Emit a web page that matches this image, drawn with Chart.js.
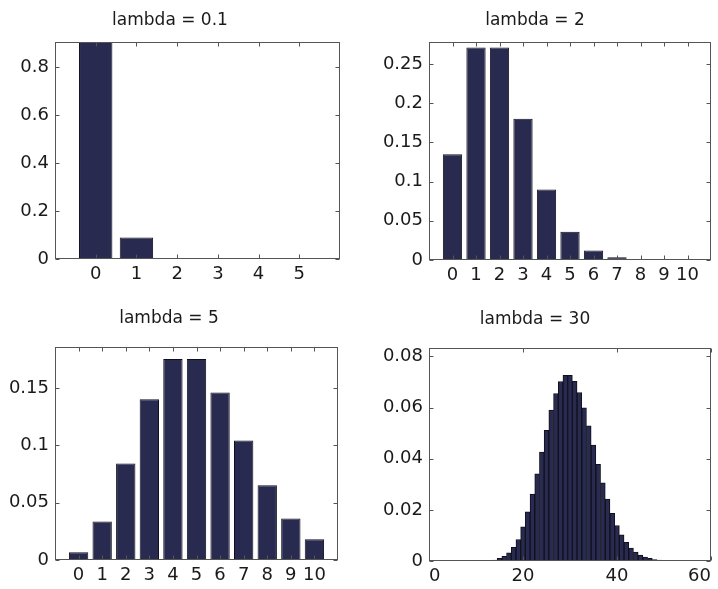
<!DOCTYPE html>
<html>
<head>
<meta charset="utf-8">
<script src="https://cdn.jsdelivr.net/npm/chart.js@4"></script>
<style>
  html, body { margin: 0; padding: 0; background: #fff; }
  #wrap { position: relative; width: 718px; height: 589px; background: #fff; overflow: hidden; }
  canvas { position: absolute; }
</style>
</head>
<body>
<div id="wrap">
  <canvas id="c1" width="359" height="295" style="left:0;top:0"></canvas>
  <canvas id="c2" width="359" height="295" style="left:359px;top:0"></canvas>
  <canvas id="c3" width="359" height="294" style="left:0;top:295px"></canvas>
  <canvas id="c4" width="359" height="294" style="left:359px;top:295px"></canvas>
</div>
<script>
// lambda = 0.1
const k01 = [0, 1, 2, 3, 4, 5];
const p01 = [0.905, 0.090, 0.0045, 0.00015, 0.00001, 0.0000003];
const xTicks01 = [0, 1, 2, 3, 4, 5];
const yTicks01 = [0, 0.2, 0.4, 0.6, 0.8];

// lambda = 2
const k2 = [0, 1, 2, 3, 4, 5, 6, 7, 8, 9, 10];
const p2 = [0.135, 0.271, 0.271, 0.180, 0.090, 0.036, 0.012, 0.0034, 0.0009, 0.0002, 0.00004];
const xTicks2 = [0, 1, 2, 3, 4, 5, 6, 7, 8, 9, 10];
const yTicks2 = [0, 0.05, 0.1, 0.15, 0.2, 0.25];

// lambda = 5
const k5 = [0, 1, 2, 3, 4, 5, 6, 7, 8, 9, 10];
const p5 = [0.0067, 0.0337, 0.0842, 0.1404, 0.1755, 0.1755, 0.1462, 0.1044, 0.0653, 0.0363, 0.0181];
const xTicks5 = [0, 1, 2, 3, 4, 5, 6, 7, 8, 9, 10];
const yTicks5 = [0, 0.05, 0.1, 0.15];

// lambda = 30
const k30 = [0, 1, 2, 3, 4, 5, 6, 7, 8, 9, 10, 11, 12, 13, 14, 15, 16, 17, 18, 19, 20,
  21, 22, 23, 24, 25, 26, 27, 28, 29, 30, 31, 32, 33, 34, 35, 36, 37, 38, 39, 40,
  41, 42, 43, 44, 45, 46, 47, 48, 49, 50, 51, 52, 53, 54, 55, 56, 57, 58, 59, 60];
const p30 = [0, 0, 0, 0, 0, 0, 0, 0, 0, 0.000002, 0.00001, 0.00003, 0.0001, 0.0002, 0.0004,
  0.0010, 0.0018, 0.0032, 0.0053, 0.0084, 0.0134, 0.0192, 0.0262, 0.0341, 0.0426,
  0.0511, 0.0590, 0.0655, 0.0702, 0.0726, 0.0726, 0.0703, 0.0659, 0.0599, 0.0529,
  0.0453, 0.0378, 0.0306, 0.0242, 0.0186, 0.0139, 0.0102, 0.0073, 0.0051, 0.0035,
  0.0023, 0.0015, 0.0010, 0.0006, 0.0004, 0.0002, 0.00015, 0.0001, 0.00005, 0.00003,
  0.00002, 0.00001, 0, 0, 0, 0];
const xTicks30 = [0, 20, 40, 60];
const yTicks30 = [0, 0.02, 0.04, 0.06, 0.08];

const FONT = "'DejaVu Sans', sans-serif";
const BAR_FILL = "#282a50";
const BAR_EDGE = "#10101c";

// full axis box with small inward tick marks on all four sides
const boxPlugin = {
  id: "box",
  afterDatasetsDraw(chart) {
    const { ctx, chartArea: a, scales } = chart;
    const L = Math.round(a.left) + 0.5, R = Math.round(a.right) - 0.5;
    const T = Math.round(a.top) + 0.5, B = Math.round(a.bottom) - 0.5;
    ctx.save();
    ctx.strokeStyle = "#555";
    ctx.lineWidth = 1;
    ctx.strokeRect(L, T, R - L, B - T);
    ctx.beginPath();
    scales.x.ticks.forEach(t => {
      const px = Math.round(scales.x.getPixelForValue(t.value)) + 0.5;
      ctx.moveTo(px, B); ctx.lineTo(px, B - 4);
      ctx.moveTo(px, T); ctx.lineTo(px, T + 4);
    });
    scales.y.ticks.forEach(t => {
      const py = Math.round(scales.y.getPixelForValue(t.value)) + 0.5;
      ctx.moveTo(L, py); ctx.lineTo(L + 4, py);
      ctx.moveTo(R, py); ctx.lineTo(R - 4, py);
    });
    ctx.stroke();
    ctx.restore();
  }
};

function panel(id, title, ks, ps, xTicks, yTicks, xMin, xMax, yMax, area, titleY, barPct, xAlign) {
  const canvas = document.getElementById(id);
  const W = canvas.width, H = canvas.height;
  return new Chart(canvas.getContext("2d"), {
    type: "bar",
    data: {
      datasets: [{
        data: ks.map((k, i) => ({ x: k, y: ps[i] })),
        backgroundColor: BAR_FILL,
        borderColor: BAR_EDGE,
        borderWidth: 1,
        barPercentage: barPct,
        categoryPercentage: 1
      }]
    },
    options: {
      responsive: false,
      animation: false,
      devicePixelRatio: 1,
      layout: { autoPadding: false, padding: { left: 0, right: W - area.r, top: 0, bottom: 0 } },
      plugins: {
        legend: { display: false },
        tooltip: { enabled: false },
        title: {
          display: true,
          text: title,
          color: "#1a1a1a",
          font: { family: FONT, size: 17, weight: "normal" },
          padding: { top: titleY - 10.2, bottom: area.t - titleY - 10.2 }
        }
      },
      scales: {
        x: {
          type: "linear",
          offset: false,
          min: xMin,
          max: xMax,
          grid: { display: false, drawTicks: false },
          border: { display: false },
          afterBuildTicks: s => { s.ticks = xTicks.map(v => ({ value: v })); },
          afterFit: s => { s.height = H - area.b; },
          ticks: {
            padding: 5,
            maxRotation: 0,
            autoSkip: false,
            align: xAlign || "center",
            color: "#1a1a1a",
            font: { family: FONT, size: 18 },
            callback: v => String(v)
          }
        },
        y: {
          min: 0,
          max: yMax,
          grid: { display: false, drawTicks: false },
          border: { display: false },
          afterBuildTicks: s => { s.ticks = yTicks.map(v => ({ value: v })); },
          afterFit: s => { s.width = area.l; },
          ticks: {
            padding: 6,
            color: "#1a1a1a",
            font: { family: FONT, size: 18 },
            callback: v => String(+Number(v).toFixed(4))
          }
        }
      }
    },
    plugins: [boxPlugin]
  });
}

panel("c1", "lambda = 0.1", k01, p01, xTicks01, yTicks01, -1, 6, 0.905, { l: 55, t: 42, r: 340, b: 259 }, 21, 0.82);
panel("c2", "lambda = 2", k2, p2, xTicks2, yTicks2, -1, 11, 0.278, { l: 70, t: 42, r: 352, b: 260 }, 21, 0.82);
panel("c3", "lambda = 5", k5, p5, xTicks5, yTicks5, -1, 11, 0.186, { l: 55, t: 52, r: 338, b: 265 }, 24, 0.82);
panel("c4", "lambda = 30", k30, p30, xTicks30, yTicks30, 0, 60, 0.0833, { l: 70, t: 53, r: 352, b: 266 }, 25, 1, "inner");
</script>
</body>
</html>
